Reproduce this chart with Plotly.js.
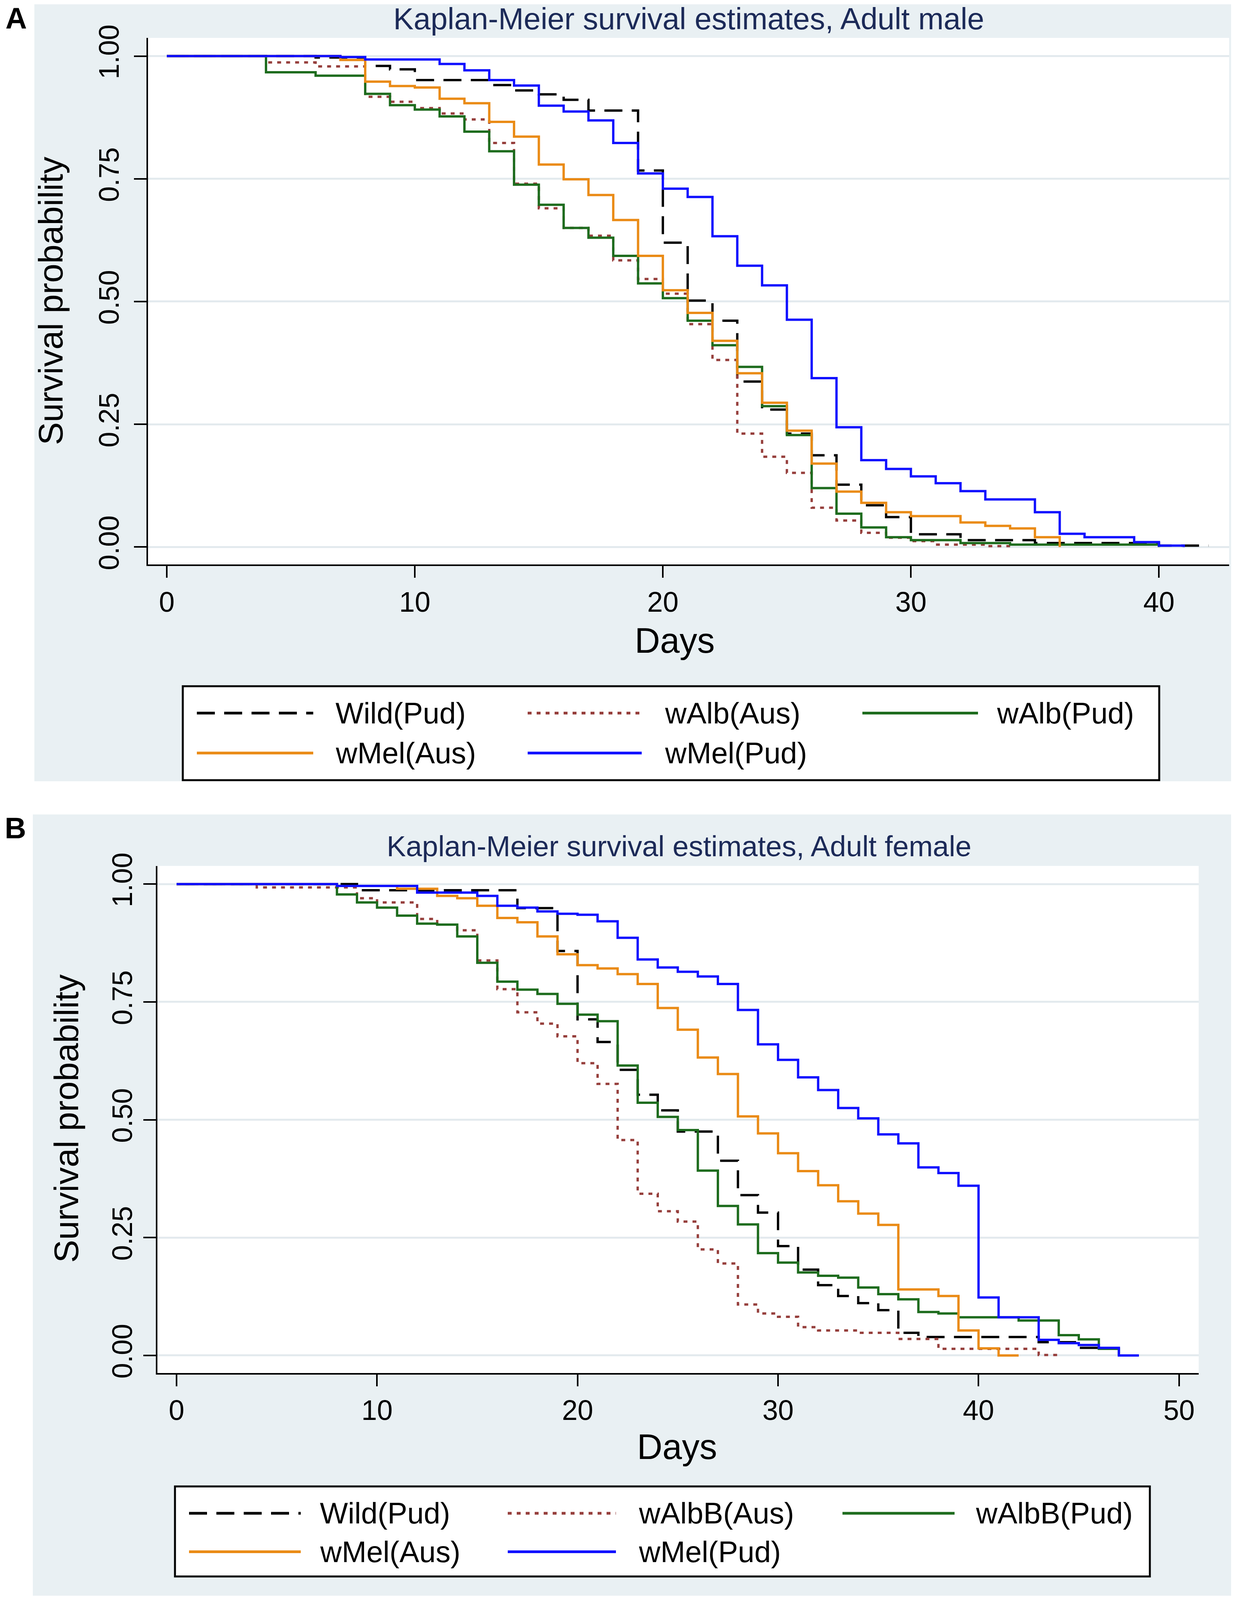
<!DOCTYPE html>
<html><head><meta charset="utf-8">
<script src="https://cdn.plot.ly/plotly-3.0.1.min.js"></script>
<style>html,body{margin:0;padding:0;background:#fff;overflow:hidden}</style>
</head><body><div id="chart"></div>
<script>
// ---------- DATA ----------
const panelTitles = ['Kaplan-Meier survival estimates, Adult male', 'Kaplan-Meier survival estimates, Adult female'];
const panelLetters = ['A', 'B'];
const yTitle = 'Survival probability';
const xTitle = 'Days';
const namesMale = ['Wild(Pud)', 'wAlb(Aus)', 'wAlb(Pud)', 'wMel(Aus)', 'wMel(Pud)'];
const namesFemale = ['Wild(Pud)', 'wAlbB(Aus)', 'wAlbB(Pud)', 'wMel(Aus)', 'wMel(Pud)'];
const yTickVals = [0, 0.25, 0.5, 0.75, 1];
const yTickText = ['0.00', '0.25', '0.50', '0.75', '1.00'];
const xTickMale = [0, 10, 20, 30, 40];
const xTickFemale = [0, 10, 20, 30, 40, 50];

// Adult male
const mWildDays = [0, 6, 8, 9, 10, 13, 14, 15, 16, 17, 19, 20, 21, 22, 23, 24, 25, 26, 27, 28, 29, 30, 32, 35, 40, 42];
const mWildSurv = [1, 0.997, 0.980, 0.973, 0.951, 0.941, 0.930, 0.922, 0.911, 0.889, 0.767, 0.620, 0.502, 0.461, 0.337, 0.280, 0.231, 0.187, 0.127, 0.085, 0.061, 0.026, 0.014, 0.008, 0.003, 0.003];
const mAlbAusDays = [0, 4, 6, 8, 9, 10, 11, 12, 13, 14, 15, 16, 17, 18, 19, 20, 21, 22, 23, 24, 25, 26, 27, 28, 29, 30, 31, 33, 34];
const mAlbAusSurv = [1, 0.987, 0.979, 0.917, 0.907, 0.894, 0.883, 0.871, 0.823, 0.740, 0.690, 0.650, 0.634, 0.584, 0.546, 0.516, 0.454, 0.381, 0.231, 0.184, 0.151, 0.080, 0.054, 0.029, 0.019, 0.012, 0.005, 0.002, 0.002];
const mAlbPudDays = [0, 4, 6, 8, 9, 10, 11, 12, 13, 14, 15, 16, 17, 18, 19, 20, 21, 22, 23, 24, 25, 26, 27, 28, 29, 30, 32, 34, 40];
const mAlbPudSurv = [1, 0.967, 0.960, 0.923, 0.900, 0.891, 0.877, 0.846, 0.806, 0.738, 0.697, 0.650, 0.630, 0.593, 0.537, 0.507, 0.461, 0.411, 0.367, 0.287, 0.228, 0.120, 0.068, 0.040, 0.020, 0.014, 0.008, 0.005, 0];
const mMelAusDays = [0, 7, 8, 9, 10, 11, 12, 13, 14, 15, 16, 17, 18, 19, 20, 21, 22, 23, 24, 25, 26, 27, 28, 29, 30, 32, 33, 34, 35, 36];
const mMelAusSurv = [1, 0.992, 0.948, 0.939, 0.936, 0.913, 0.904, 0.866, 0.836, 0.779, 0.749, 0.717, 0.666, 0.593, 0.523, 0.477, 0.420, 0.354, 0.294, 0.237, 0.170, 0.113, 0.090, 0.071, 0.063, 0.050, 0.043, 0.038, 0.020, 0];
const mMelPudDays = [0, 7, 8, 11, 12, 13, 14, 15, 16, 17, 18, 19, 20, 21, 22, 23, 24, 25, 26, 27, 28, 29, 30, 31, 32, 33, 35, 36, 37, 39, 40, 41];
const mMelPudSurv = [1, 0.998, 0.993, 0.984, 0.971, 0.951, 0.940, 0.899, 0.887, 0.869, 0.823, 0.761, 0.730, 0.713, 0.633, 0.573, 0.533, 0.463, 0.344, 0.244, 0.177, 0.159, 0.144, 0.130, 0.114, 0.097, 0.071, 0.027, 0.020, 0.010, 0.003, 0];

// Adult female
const fWildDays = [0, 9, 17, 19, 20, 21, 22, 23, 24, 25, 27, 28, 29, 30, 31, 32, 33, 34, 35, 36, 37, 43, 45, 46];
const fWildSurv = [1, 0.987, 0.949, 0.858, 0.713, 0.665, 0.606, 0.553, 0.520, 0.475, 0.413, 0.340, 0.303, 0.232, 0.182, 0.149, 0.126, 0.111, 0.096, 0.048, 0.039, 0.028, 0.016, 0];
const fAlbAusDays = [0, 4, 9, 10, 12, 13, 14, 15, 16, 17, 18, 19, 20, 21, 22, 23, 24, 25, 26, 27, 28, 29, 30, 31, 32, 34, 36, 38, 43, 44];
const fAlbAusSurv = [1, 0.993, 0.970, 0.961, 0.926, 0.914, 0.902, 0.838, 0.777, 0.728, 0.704, 0.677, 0.620, 0.576, 0.457, 0.343, 0.306, 0.284, 0.225, 0.195, 0.108, 0.089, 0.082, 0.060, 0.053, 0.048, 0.035, 0.014, 0.001, 0.001];
const fAlbPudDays = [0, 8, 9, 10, 11, 12, 13, 14, 15, 16, 17, 18, 19, 20, 21, 22, 23, 24, 25, 26, 27, 28, 29, 30, 31, 32, 33, 34, 35, 36, 37, 38, 39, 42, 44, 45, 46, 47];
const fAlbPudSurv = [1, 0.978, 0.961, 0.950, 0.933, 0.916, 0.914, 0.889, 0.833, 0.793, 0.776, 0.767, 0.746, 0.723, 0.709, 0.615, 0.536, 0.506, 0.478, 0.392, 0.317, 0.278, 0.217, 0.197, 0.176, 0.169, 0.165, 0.144, 0.130, 0.119, 0.092, 0.089, 0.081, 0.074, 0.043, 0.034, 0.014, 0];
const fMelAusDays = [0, 8, 11, 13, 14, 15, 16, 17, 18, 19, 20, 21, 22, 23, 24, 25, 26, 27, 28, 29, 30, 31, 32, 33, 34, 35, 36, 38, 39, 40, 41, 42];
const fMelAusSurv = [1, 0.996, 0.990, 0.975, 0.970, 0.954, 0.928, 0.919, 0.889, 0.851, 0.828, 0.821, 0.809, 0.788, 0.737, 0.691, 0.632, 0.597, 0.507, 0.471, 0.429, 0.391, 0.361, 0.327, 0.301, 0.277, 0.140, 0.126, 0.053, 0.015, 0, 0];
const fMelPudDays = [0, 8, 12, 15, 16, 17, 18, 19, 20, 21, 22, 23, 24, 25, 26, 27, 28, 29, 30, 31, 32, 33, 34, 35, 36, 37, 38, 39, 40, 41, 43, 44, 45, 46, 47, 48];
const fMelPudSurv = [1, 0.996, 0.982, 0.975, 0.954, 0.950, 0.942, 0.937, 0.935, 0.921, 0.886, 0.840, 0.823, 0.814, 0.804, 0.788, 0.733, 0.660, 0.627, 0.590, 0.563, 0.525, 0.503, 0.469, 0.450, 0.399, 0.387, 0.360, 0.123, 0.081, 0.033, 0.026, 0.022, 0.016, 0, 0];

// ---------- STYLE / LAYOUT ----------
const W = 3162, H = 4481;           // reference design size
const vh = window.innerHeight || H; // visible height of the browser window
const HV = Math.min(H, vh);         // fit the whole figure into what is visible
const FONT = 'Liberation Sans, Arial, sans-serif';
const styles = [
  {color: '#000000', dash: '46px,24px'},
  {color: '#963f3c', dash: '10px,13px'},
  {color: '#1e6c1e', dash: 'solid'},
  {color: '#ea8b16', dash: 'solid'},
  {color: '#1010ff', dash: 'solid'}
];
const px = v => v / W;
const py = v => 1 - v / H;   // design pixel -> paper fraction (scales with figure height)

const maleSets = [[mWildDays, mWildSurv], [mAlbAusDays, mAlbAusSurv], [mAlbPudDays, mAlbPudSurv], [mMelAusDays, mMelAusSurv], [mMelPudDays, mMelPudSurv]];
const femaleSets = [[fWildDays, fWildSurv], [fAlbAusDays, fAlbAusSurv], [fAlbPudDays, fAlbPudSurv], [fMelAusDays, fMelAusSurv], [fMelPudDays, fMelPudSurv]];

const traces = [];
maleSets.forEach((s, i) => traces.push({
  x: s[0], y: s[1], type: 'scatter', mode: 'lines', name: namesMale[i],
  line: {shape: 'hv', color: styles[i].color, dash: styles[i].dash, width: 6},
  xaxis: 'x', yaxis: 'y', showlegend: false, hoverinfo: 'skip'
}));
femaleSets.forEach((s, i) => traces.push({
  x: s[0], y: s[1], type: 'scatter', mode: 'lines', name: namesFemale[i],
  line: {shape: 'hv', color: styles[i].color, dash: styles[i].dash, width: 6},
  xaxis: 'x2', yaxis: 'y2', showlegend: false, hoverinfo: 'skip'
}));

const xAxisBase = {
  ticks: 'outside', ticklen: 30, tickwidth: 4, tickcolor: '#000',
  showline: true, linewidth: 4, linecolor: '#000', showgrid: false, zeroline: false,
  tickfont: {family: FONT, size: 72, color: '#000'}, fixedrange: true
};
const yAxisBase = {
  ticks: 'outside', ticklen: 32, tickwidth: 4, tickcolor: '#000',
  showline: true, linewidth: 4, linecolor: '#000', showgrid: true, gridcolor: '#e3eaee', gridwidth: 5,
  zeroline: false, tickangle: -90, tickvals: yTickVals, ticktext: yTickText,
  tickfont: {family: FONT, size: 72, color: '#000'}, fixedrange: true
};

const panels = [
  {bg: [88, 12, 3152, 2188], plot: [379, 106, 3147, 1581]},
  {bg: [84, 2281, 3152, 4469], plot: [403, 2425, 3069, 3845]}
];

const shapes = [];
panels.forEach(p => {
  shapes.push({type: 'rect', xref: 'paper', yref: 'paper', layer: 'below',
    x0: px(p.bg[0]), x1: px(p.bg[2]), y0: py(p.bg[3]), y1: py(p.bg[1]),
    fillcolor: '#e9f0f3', line: {width: 0}});
  shapes.push({type: 'rect', xref: 'paper', yref: 'paper', layer: 'below',
    x0: px(p.plot[0]), x1: px(p.plot[2]), y0: py(p.plot[3]), y1: py(p.plot[1]),
    fillcolor: '#ffffff', line: {width: 0}});
});

const annotations = [];
function ann(text, x, y, size, opts) {
  annotations.push(Object.assign({
    text: text, x: px(x), y: py(y), xref: 'paper', yref: 'paper',
    showarrow: false, xanchor: 'center', yanchor: 'middle',
    font: {family: FONT, size: size, color: '#000'}
  }, opts || {}));
}

// Panel letters and titles (top panel items anchored at their top so they stay inside the picture)
ann('<b>' + panelLetters[0] + '</b>', 12, 0, 76, {xanchor: 'left', yanchor: 'top', yshift: -2});
ann('<b>' + panelLetters[1] + '</b>', 10, 2319, 76, {xanchor: 'left'});
ann(panelTitles[0], 1763, 0, 78, {yanchor: 'top', yshift: -2, font: {family: FONT, size: 78, color: '#1c2a58'}});
ann(panelTitles[1], 1738, 2370, 74, {font: {family: FONT, size: 74, color: '#1c2a58'}});
// axis titles
ann(yTitle, 130, 843, 88, {textangle: -90});
ann(yTitle, 170, 3133, 88, {textangle: -90});
ann(xTitle, 1727, 1794, 90);
ann(xTitle, 1734, 4052, 90);

// Legends
const legends = [
  {box: [468, 1922, 2968, 2185], rows: [1997, 2109], cols: [[504, 802, 857], [1351, 1643, 1700], [2208, 2504, 2550]], names: namesMale},
  {box: [448, 4163, 2944, 4415], rows: [4238, 4346], cols: [[484, 770, 817], [1300, 1577, 1633], [2157, 2444, 2496]], names: namesFemale}
];
legends.forEach(L => {
  shapes.push({type: 'rect', xref: 'paper', yref: 'paper', layer: 'above',
    x0: px(L.box[0]), x1: px(L.box[2]), y0: py(L.box[3]), y1: py(L.box[1]),
    fillcolor: '#ffffff', line: {width: 5, color: '#000'}});
  L.names.forEach((nm, i) => {
    const r = Math.floor(i / 3), c = i % 3;
    const yy = L.rows[r];
    shapes.push({type: 'line', xref: 'paper', yref: 'paper', layer: 'above',
      x0: px(L.cols[c][0]), x1: px(L.cols[c][1]), y0: py(yy), y1: py(yy),
      line: {color: styles[i].color, dash: styles[i].dash, width: 7}});
    ann(nm, L.cols[c][2], yy, 76, {xanchor: 'left'});
  });
});

const layout = {
  width: W, height: HV,
  margin: {l: 0, r: 0, t: 0, b: 0},
  paper_bgcolor: '#ffffff', plot_bgcolor: 'rgba(0,0,0,0)',
  showlegend: false,
  xaxis: Object.assign({}, xAxisBase, {domain: [px(379), px(3147)], range: [-0.756, 42.83], tickvals: xTickMale, anchor: 'y'}),
  yaxis: Object.assign({}, yAxisBase, {domain: [py(1581), py(106)], range: [-0.0356, 1.0371], anchor: 'x', ticklabelstandoff: 10}),
  xaxis2: Object.assign({}, xAxisBase, {domain: [px(403), px(3069)], range: [-0.955, 50.98], tickvals: xTickFemale, anchor: 'y2'}),
  yaxis2: Object.assign({}, yAxisBase, {domain: [py(3845), py(2425)], range: [-0.0371, 1.0386], anchor: 'x2'}),
  shapes: shapes,
  annotations: annotations
};

const el = document.getElementById('chart');
el.style.width = W + 'px';
el.style.height = HV + 'px';
Plotly.newPlot(el, traces, layout, {displayModeBar: false, staticPlot: true});
</script>
</body></html>
